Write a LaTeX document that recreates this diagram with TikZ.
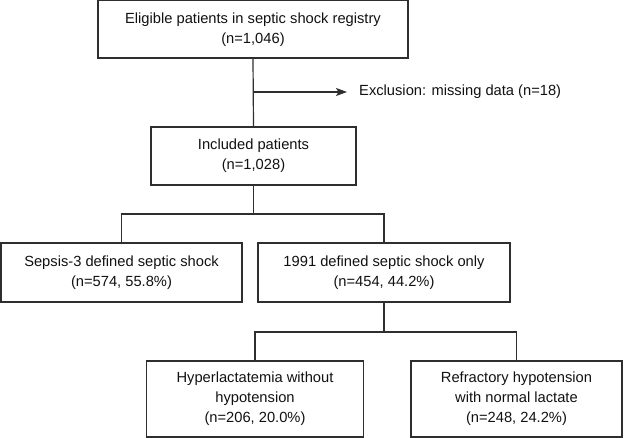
\documentclass[tikz,border=0pt]{standalone}
\usepackage{fontspec}
\setmainfont{Liberation Sans}
\usetikzlibrary{arrows.meta}
\definecolor{linec}{HTML}{2E2E2E}
\definecolor{textc}{HTML}{111111}
\begin{document}
\begin{tikzpicture}[x=1pt,y=1pt,
  box/.style={draw=linec,line width=1.2pt,inner sep=0pt,align=center,text=textc,
    font=\fontsize{14.7}{20}\selectfont},
  conn/.style={draw=linec,line width=1.2pt}]
\useasboundingbox (0,0) rectangle (624,438);
\node[box,minimum width=310,minimum height=57.5] (b1) at (253,408.75) {Eligible patients in septic shock registry\\(n=1,046)};
\node[box,minimum width=205,minimum height=58] (b2) at (253.5,282) {Included patients\\(n=1,028)};
\node[box,minimum width=241,minimum height=59] (b3) at (121.5,165.5) {Sepsis-3 defined septic shock\\(n=574, 55.8\%)};
\node[box,minimum width=252,minimum height=59] (b4) at (384,165.5) {1991 defined septic shock only\\(n=454, 44.2\%)};
\node[box,minimum width=217,minimum height=76] (b5) at (255,39) {Hyperlactatemia without\\hypotension\\(n=206, 20.0\%)};
\node[box,minimum width=211,minimum height=76] (b6) at (516.5,39) {Refractory hypotension\\with normal lactate\\(n=248, 24.2\%)};
\node[anchor=west,inner sep=0pt,text=textc,font=\fontsize{14.7}{20}\selectfont] (ex) at (359,346) {Exclusion: missing data (n=18)};
\coordinate (ja) at (b1.south |- 0,346);
\coordinate (jb) at (347,346);
\coordinate (j1) at (b2.south |- 0,224);
\coordinate (j2) at (b4.south |- 0,106);
\draw[conn] (b1.south) -- (b2.north);
\draw[conn,-{Stealth[length=11pt,width=8pt,inset=2.5pt]}] (ja) -- (jb);
\draw[conn] (b2.south) -- (j1);
\draw[conn] (b3.north) |- (j1) -| (b4.north);
\draw[conn] (b4.south) -- (j2);
\draw[conn] (b5.north) |- (j2) -| (b6.north);
\end{tikzpicture}
\end{document}
